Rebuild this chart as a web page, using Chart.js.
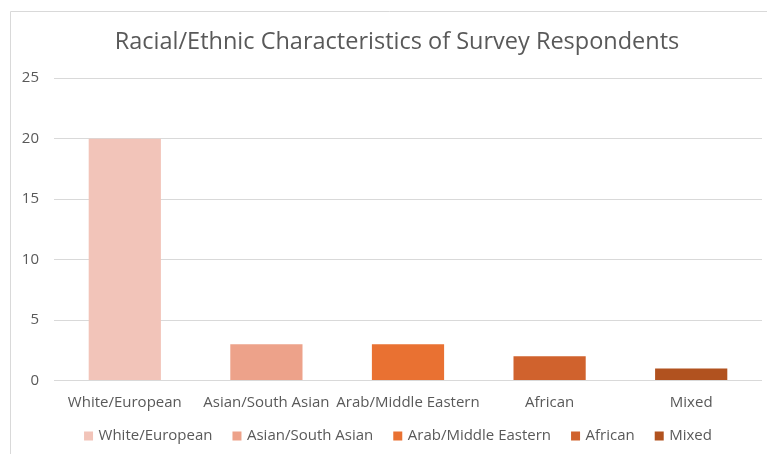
<!DOCTYPE html>
<html><head><meta charset="utf-8">
<script src="https://cdn.jsdelivr.net/npm/chart.js@4"></script>
<style>html,body{margin:0;padding:0;background:#fff;}#wrap{width:767px;height:454px;position:relative;}</style>
</head><body><div id="wrap"><canvas id="c" width="767" height="454"></canvas></div>
<script>
const categories = ["White/European","Asian/South Asian","Arab/Middle Eastern","African","Mixed"];
const counts = [20, 3, 3, 2, 1];
const barColors = ["#F2C4B9","#EDA28A","#E97132","#D0622D","#B1521F"];
const yTicks = [0, 5, 10, 15, 20, 25];
const titleText = "Racial/Ethnic Characteristics of Survey Respondents";

const LEGEND_PAD = 22;   // horizontal spacing between legend items
const LEGEND_VPAD = 4;   // vertical padding wanted above/below legend row
const LEGEND_SHIFT_X = 8;
const TITLE_SHIFT_X = 6;

const frame = {
  id: 'frame',
  beforeDraw(chart) {
    const ctx = chart.ctx;
    ctx.save();
    ctx.strokeStyle = '#D9D9D9';
    ctx.lineWidth = 1;
    ctx.beginPath();
    ctx.moveTo(10.5, 460);
    ctx.lineTo(10.5, 11.5);
    ctx.lineTo(780, 11.5);
    ctx.stroke();
    ctx.restore();
  }
};

const layoutTweak = {
  id: 'layoutTweak',
  beforeLayout(chart) {
    const lg = chart.legend;
    if (lg && !lg._tweaked) {
      const f = lg.fit;
      lg.fit = function () { f.call(this); this.height -= 2 * (LEGEND_PAD - LEGEND_VPAD); };
      lg._tweaked = true;
    }
  },
  afterLayout(chart) {
    const lg = chart.legend;
    if (lg) {
      const d = LEGEND_PAD - LEGEND_VPAD;
      lg.top -= d; lg.height += 2 * d; lg.bottom = lg.top + lg.height;
      lg.left += LEGEND_SHIFT_X; lg.right += LEGEND_SHIFT_X;
    }
    const tb = chart.titleBlock;
    if (tb) { tb.left += TITLE_SHIFT_X; tb.right += TITLE_SHIFT_X; }
  }
};

const FONT = "'Open Sans', Roboto, sans-serif";
new Chart(document.getElementById('c'), {
  type: 'bar',
  data: {
    labels: categories,
    datasets: [{ data: counts, backgroundColor: barColors, borderWidth: 0,
      categoryPercentage: 1.0, barPercentage: 0.51 }]
  },
  options: {
    responsive: false,
    animation: false,
    layout: { padding: { left: 20, right: 5, top: 0, bottom: 18.5 } },
    plugins: {
      tooltip: { enabled: false },
      title: { display: true, text: titleText, color: '#595959',
        font: { family: FONT, size: 23.5, weight: 'normal' },
        padding: { top: 28, bottom: 22 } },
      legend: {
        position: 'bottom', onClick: null,
        labels: {
          color: '#595959', usePointStyle: true, pointStyle: 'rect',
          boxWidth: 5, boxHeight: 9, padding: LEGEND_PAD,
          font: { family: FONT, size: 15 },
          generateLabels(chart) {
            const ds = chart.data.datasets[0];
            return chart.data.labels.map((l, i) => ({
              text: l, fillStyle: ds.backgroundColor[i], strokeStyle: ds.backgroundColor[i],
              lineWidth: 0, pointStyle: 'rect', fontColor: '#595959', index: i, hidden: false
            }));
          }
        }
      }
    },
    scales: {
      x: {
        grid: { display: false, drawTicks: false },
        border: { display: false },
        ticks: { color: '#595959', font: { family: FONT, size: 15 }, padding: 13, maxRotation: 0, autoSkip: false }
      },
      y: {
        min: 0, max: 25,
        afterBuildTicks(scale) { scale.ticks = yTicks.map(v => ({ value: v })); },
        afterFit(scale) { scale.width = 34; },
        grid: { color: '#D9D9D9', drawTicks: false },
        border: { display: false },
        ticks: { color: '#595959', font: { family: FONT, size: 15 }, padding: 15 }
      }
    }
  },
  plugins: [frame, layoutTweak]
});
</script></body></html>
